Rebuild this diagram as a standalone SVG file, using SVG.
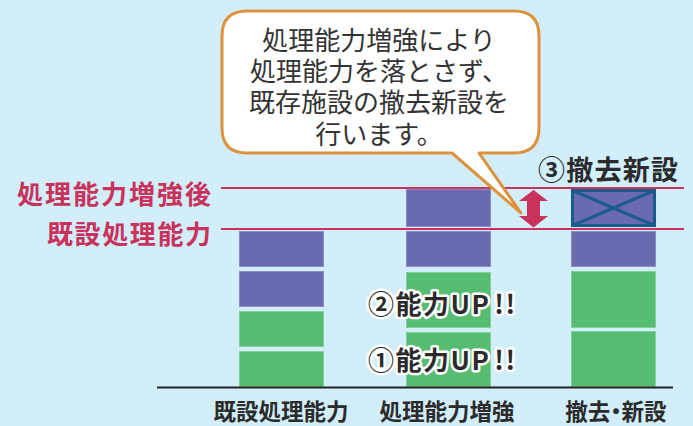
<svg xmlns="http://www.w3.org/2000/svg" width="693" height="426" viewBox="0 0 693 426">
<defs>
<style>
.jp{font-family:"Noto Sans CJK JP","Noto Sans",sans-serif;}
.pur{fill:#6a6ab0;stroke:#8c8cc8;stroke-width:1;}
.grn{fill:#56bc72;stroke:#7fd197;stroke-width:1;}
.lvl{stroke:#c9325a;stroke-width:2;}
.lvlt{fill:#c9325a;font-size:26px;font-weight:700;}
.ax{font-size:22.5px;font-weight:700;fill:#2b2b2b;font-feature-settings:"palt";}
.up{font-size:26px;font-weight:700;fill:#2b2b2b;stroke:#fff;stroke-width:5;stroke-linejoin:round;paint-order:stroke;letter-spacing:1.5px;}
.call{font-size:26px;fill:#333;}
</style>
</defs>
<rect width="693" height="426" fill="#d2eefa"/>

<g id="levels">
<line class="lvl" x1="221" y1="188" x2="684" y2="188"/>
<line class="lvl" x1="221" y1="229" x2="684" y2="229"/>
<text class="jp lvlt" x="211" y="192" text-anchor="end" dominant-baseline="central" textLength="194">処理能力増強後</text>
<text class="jp lvlt" x="211" y="232" text-anchor="end" dominant-baseline="central" textLength="164">既設処理能力</text>
</g>

<g id="bar-existing">
<rect class="pur" x="239.5" y="231.5" width="84" height="35"/>
<rect class="pur" x="239.5" y="271.5" width="84" height="35"/>
<rect class="grn" x="239.5" y="311.5" width="84" height="35"/>
<rect class="grn" x="239.5" y="351.5" width="84" height="35"/>
</g>

<g id="bar-enhanced">
<rect class="pur" x="406.5" y="189.5" width="84" height="37"/>
<rect class="pur" x="406.5" y="231.5" width="84" height="35"/>
<rect class="grn" x="406.5" y="272.5" width="84" height="55"/>
<rect class="grn" x="406.5" y="332.5" width="84" height="54"/>
</g>

<g id="bar-renew">
<rect x="572.5" y="190.5" width="82" height="35" fill="#6a6ab0" stroke="#1d5a8e" stroke-width="3"/>
<path d="M572.5 190.5 L654.5 225.5 M654.5 190.5 L572.5 225.5" stroke="#1d5a8e" stroke-width="3" fill="none"/>
<rect class="pur" x="571.5" y="231.5" width="84" height="35"/>
<rect class="grn" x="571.5" y="271.5" width="84" height="56"/>
<rect class="grn" x="571.5" y="331.5" width="84" height="55"/>
</g>

<g id="baseline">
<line x1="157" y1="387.5" x2="673" y2="387.5" stroke="#222" stroke-width="2"/>
</g>

<g id="arrow">
<path d="M533.5 190 L548 201 L540 201 L540 216 L548 216 L533.5 227.5 L519 216 L527 216 L527 201 L519 201 Z" fill="#c9325a"/>
</g>

<g id="callout">
<path d="M247 11 H514 Q539 11 539 36 V128 Q539 153 514 153 H479 L521 213 L452 153 H247 Q222 153 222 128 V36 Q222 11 247 11 Z" fill="#fff" stroke="#df923d" stroke-width="3" stroke-linejoin="round"/>
<text class="jp call" x="379" y="38" text-anchor="middle" dominant-baseline="central">処理能力増強により</text>
<text class="jp call" x="379" y="69" text-anchor="middle" dominant-baseline="central">処理能力を落とさず、</text>
<text class="jp call" x="379" y="100" text-anchor="middle" dominant-baseline="central">既存施設の撤去新設を</text>
<text class="jp call" x="379" y="132" text-anchor="middle" dominant-baseline="central">行います。</text>
</g>

<g id="labels">
<text class="jp" x="538" y="168" dominant-baseline="central" font-size="27" font-weight="700" fill="#2b2b2b" textLength="140">③撤去新設</text>
<text class="jp up" x="368" y="302" dominant-baseline="central">②能力UP<tspan dx="4">!!</tspan></text>
<text class="jp up" x="368" y="358" dominant-baseline="central">①能力UP<tspan dx="4">!!</tspan></text>
<text class="jp ax" x="281" y="410" text-anchor="middle" dominant-baseline="central">既設処理能力</text>
<text class="jp ax" x="447" y="410" text-anchor="middle" dominant-baseline="central">処理能力増強</text>
<text class="jp ax" x="616" y="410" text-anchor="middle" dominant-baseline="central">撤去・新設</text>
</g>
</svg>
